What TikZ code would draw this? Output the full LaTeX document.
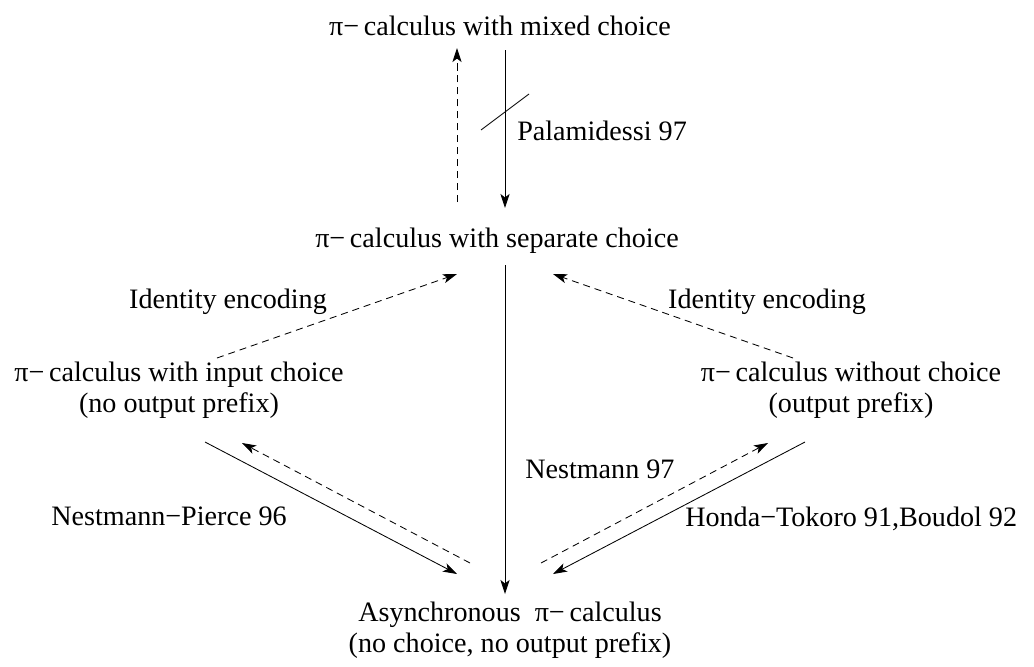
\documentclass[tikz,border=0pt]{standalone}
\usepackage{fontspec}
\setmainfont{Liberation Serif}
\usetikzlibrary{arrows.meta}

\tikzset{
  lang/.style={inner sep=0pt, align=center, anchor=base},
  cite/.style={inner sep=0pt, anchor=base},
  res/.style={line width=0.6pt, -{Stealth[length=10pt, width=6.5pt, inset=2.5pt]}},
  enc/.style={res, dash pattern=on 5pt off 3.5pt},
}

\begin{document}
\begin{tikzpicture}[x=0.025cm, y=-0.025cm, font=\fontsize{20}{22}\selectfont]
    \useasboundingbox (0,0) rectangle (1034,666);

    % calculi (base = last line)
    \node[lang] (mixed) at (500,35) {π−\,calculus with mixed choice};
    \node[lang] (sep) at (497,247) {π−\,calculus with separate choice};
    \node[lang] (input) at (179,412) {π−\,calculus with input choice\\(no output prefix)};
    \node[lang] (nochoice) at (851,412) {π−\,calculus without choice\\(output prefix)};
    \node[lang] (async) at (510,652) {Asynchronous~~π−\,calculus\\(no choice, no output prefix)};

    % results
    \node[cite, anchor=base west] (pal) at (517,140) {Palamidessi 97};
    \node[cite] (idl) at (228,308) {Identity encoding};
    \node[cite] (idr) at (767,308) {Identity encoding};
    \node[cite, anchor=base west] (nest) at (525,478) {Nestmann 97};
    \node[cite] (np) at (169,525) {Nestmann−Pierce 96};
    \node[cite, anchor=base west] (ht) at (685,526) {Honda−Tokoro 91,Boudol 92};

    % arrow ends
    \coordinate (sep-up) at (457,202);
    \coordinate (mixed-in) at (457,48);
    \coordinate (mixed-out) at (505,50);
    \coordinate (sep-in) at (505,208);
    \coordinate (cut) at (505,112);
    \coordinate (sep-out) at (505,265);
    \coordinate (async-in) at (505,594);
    \coordinate (input-up) at (217,358);
    \coordinate (sep-l) at (457,274);
    \coordinate (nochoice-up) at (793,358);
    \coordinate (sep-r) at (553,274);
    \coordinate (input-out) at (205,442);
    \coordinate (async-l) at (457,574);
    \coordinate (async-lu) at (470,563);
    \coordinate (input-in) at (242,443);
    \coordinate (nochoice-out) at (805,442);
    \coordinate (async-r) at (553,574);
    \coordinate (async-ru) at (541,563);
    \coordinate (nochoice-in) at (768,443);

    \draw[enc] (sep-up) -- (mixed-in);
    \draw[res] (mixed-out) -- (sep-in);
    \draw[line width=0.6pt] (cut) ++(-24,18) -- ++(48,-36);
    \draw[res] (sep-out) -- (async-in);
    \draw[enc] (input-up) -- (sep-l);
    \draw[enc] (nochoice-up) -- (sep-r);
    \draw[res] (input-out) -- (async-l);
    \draw[enc] (async-lu) -- (input-in);
    \draw[res] (nochoice-out) -- (async-r);
    \draw[enc] (async-ru) -- (nochoice-in);
\end{tikzpicture}
\end{document}
